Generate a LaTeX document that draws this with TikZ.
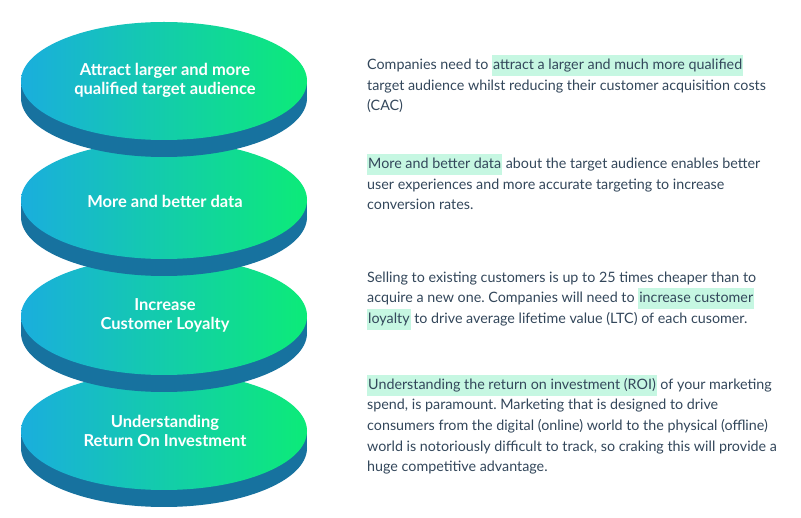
\documentclass[tikz,border=0pt]{standalone}
\usepackage{fontspec}
\setmainfont{Lato}
\definecolor{diskl}{HTML}{1AAEDD}
\definecolor{diskr}{HTML}{0CEB78}
\definecolor{rimc}{HTML}{17729F}
\definecolor{txt}{HTML}{33475B}
\definecolor{hl}{HTML}{C6F7E2}
\newcommand\hlt[1]{{\setlength{\fboxsep}{0pt}\colorbox{hl}{\rule[-6pt]{0pt}{21pt}\hspace{1pt}#1\hspace{1pt}}}}
\tikzset{
  disklabel/.style={text=white, align=center, inner sep=0pt, font=\bfseries\fontsize{16.5}{19}\selectfont},
  para/.style={anchor=base west, inner sep=0pt, text=txt, font=\fontsize{14.3}{20}\selectfont}
}
\begin{document}
\frenchspacing
\begin{tikzpicture}[x=1pt,y=1pt]
\useasboundingbox (0,0) rectangle (801,-518);
\fill[white] (0,0) rectangle (801,-518);
\foreach \cy in {-431,-316,-200,-81}{
  \fill[rimc] (164,\cy-17) ellipse [x radius=143, y radius=59];
  \fill[rimc] (21,\cy) rectangle (307,\cy-17);
  \shade[left color=diskl, right color=diskr] (164,\cy) ellipse [x radius=143, y radius=59];
}
\node[disklabel] (d1) at (165,-80.5) {Attract larger and more\\qualified target audience};
\node[disklabel] (d2) at (165,-201) {More and better data};
\node[disklabel] (d3) at (165,-315.5) {Increase\\Customer Loyalty};
\node[disklabel] (d4) at (165,-430.5) {Understanding\\Return On Investment};

\node[para] (a1) at (367,-70) {Companies need to \hlt{attract a larger and much more qualified}};
\node[para] (a2) at (367,-91) {target audience whilst reducing their customer acquisition costs};
\node[para] (a3) at (367,-111) {(CAC)};

\node[para] (b1) at (367,-169) {\hlt{More and better data} about the target audience enables better};
\node[para] (b2) at (367,-190) {user experiences and more accurate targeting to increase};
\node[para] (b3) at (367,-210) {conversion rates.};

\node[para] (c1) at (367,-283) {Selling to existing customers is up to 25 times cheaper than to};
\node[para] (c2) at (367,-303) {acquire a new one. Companies will need to \hlt{increase customer}};
\node[para] (c3) at (367,-324) {\hlt{loyalty} to drive average lifetime value (LTC) of each cusomer.};

\node[para] (e1) at (367,-390) {\hlt{Understanding the return on investment (ROI)} of your marketing};
\node[para] (e2) at (367,-410) {spend, is paramount. Marketing that is designed to drive};
\node[para] (e3) at (367,-431) {consumers from the digital (online) world to the physical (offline)};
\node[para] (e4) at (367,-452) {world is notoriously difficult to track, so craking this will provide a};
\node[para] (e5) at (367,-472) {huge competitive advantage.};
\end{tikzpicture}
\end{document}
